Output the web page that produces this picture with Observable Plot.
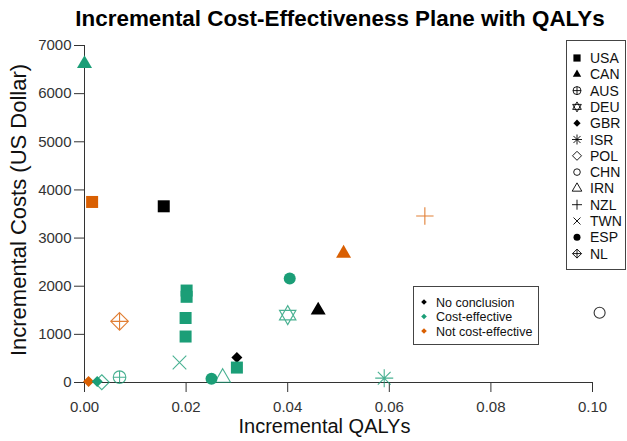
<!DOCTYPE html>
<html><head><meta charset="utf-8">
<script src="https://cdn.jsdelivr.net/npm/d3@7"></script>
<script src="https://cdn.jsdelivr.net/npm/@observablehq/plot@0.6"></script>
<style>
body{margin:0;background:#fff;font-family:"Liberation Sans",Arial,sans-serif;}
#title{box-sizing:border-box;width:627px;height:36px;line-height:38px;padding-left:53px;text-align:center;font-weight:bold;font-size:22.4px;color:#000;white-space:nowrap;}
#chart svg{display:block;overflow:visible;}
</style></head><body>
<div id="title">Incremental Cost-Effectiveness Plane with QALYs</div>
<div id="chart"></div>
<script>
// ---- data ----
const countries   = ["CAN","USA","USA","CAN","CAN","ESP","DEU","NZL","ISR","CHN","NL","AUS","POL","GBR","GBR","USA","USA","USA","USA","TWN","ESP","IRN","GBR","USA"];
const conclusions = ["CE","NCE","NC","NC","NCE","CE","CE","NCE","CE","NC","NCE","CE","CE","NCE","CE","CE","CE","CE","CE","CE","CE","CE","NC","CE"];
const qalys       = [0.0000,0.0015,0.0156,0.0460,0.0510,0.0404,0.0400,0.0670,0.0590,0.1014,0.0069,0.0069,0.0034,0.0008,0.0025,0.0201,0.0201,0.0199,0.0199,0.0187,0.0250,0.0272,0.0300,0.0300];
const costs       = [6620,3750,3660,1500,2680,2160,1400,3460,90,1450,1270,110,5,20,20,1910,1780,1340,955,415,80,100,520,310];
const xTicks = [0, 0.02, 0.04, 0.06, 0.08, 0.10];
const yTicks = [0, 1000, 2000, 3000, 4000, 5000, 6000, 7000];
const legendCountries = ["USA","CAN","AUS","DEU","GBR","ISR","POL","CHN","IRN","NZL","TWN","ESP","NL"];
const conclusionKeys = ["NC","CE","NCE"];
const conclusionLabels = ["No conclusion","Cost-effective","Not cost-effective"];

// ---- styles ----
const conclusionColors = {NC:"#000000", CE:"#1B9E77", NCE:"#D95F02"};
const sym = f => ({draw(ctx, size){ f(ctx, Math.sqrt(size/Math.PI)); }});
const S3 = Math.sqrt(3);
const shapes = {
  square: sym((c,r)=>{c.moveTo(-r,-r);c.lineTo(r,-r);c.lineTo(r,r);c.lineTo(-r,r);c.closePath();}),
  triangle: sym((c,r)=>{const h=r*S3;c.moveTo(0,-h*2/3);c.lineTo(r,h/3);c.lineTo(-r,h/3);c.closePath();}),
  circle: sym((c,r)=>{c.moveTo(r,0);c.arc(0,0,r,0,2*Math.PI);}),
  diamond: sym((c,r)=>{c.moveTo(0,-r);c.lineTo(r,0);c.lineTo(0,r);c.lineTo(-r,0);c.closePath();}),
  plus: sym((c,r)=>{c.moveTo(-r,0);c.lineTo(r,0);c.moveTo(0,-r);c.lineTo(0,r);}),
  times: sym((c,r)=>{c.moveTo(-r,-r);c.lineTo(r,r);c.moveTo(-r,r);c.lineTo(r,-r);}),
  asterisk: sym((c,r)=>{const d=r*0.707;c.moveTo(-r,0);c.lineTo(r,0);c.moveTo(0,-r);c.lineTo(0,r);c.moveTo(-d,-d);c.lineTo(d,d);c.moveTo(-d,d);c.lineTo(d,-d);}),
  circlePlus: sym((c,r)=>{c.moveTo(r,0);c.arc(0,0,r,0,2*Math.PI);c.moveTo(-r,0);c.lineTo(r,0);c.moveTo(0,-r);c.lineTo(0,r);}),
  star: sym((c,r)=>{const w=r*S3/2;c.moveTo(0,-r);c.lineTo(w,r/2);c.lineTo(-w,r/2);c.closePath();c.moveTo(0,r);c.lineTo(w,-r/2);c.lineTo(-w,-r/2);c.closePath();}),
  diamondPlus: sym((c,r)=>{c.moveTo(0,-r);c.lineTo(r,0);c.lineTo(0,r);c.lineTo(-r,0);c.closePath();c.moveTo(-r,0);c.lineTo(r,0);c.moveTo(0,-r);c.lineTo(0,r);})
};
const countryStyle = {
  USA:{shape:"square",filled:true,r:6,lr:3.6},
  CAN:{shape:"triangle",filled:true,r:7.5,lr:4.2},
  AUS:{shape:"circlePlus",filled:false,r:6.3,lr:4},
  DEU:{shape:"star",filled:false,r:9.5,lr:5},
  GBR:{shape:"diamond",filled:true,r:5.5,lr:3.6},
  ISR:{shape:"asterisk",filled:false,r:9,lr:5},
  POL:{shape:"diamond",filled:false,r:7.5,lr:4.5},
  CHN:{shape:"circle",filled:false,r:5.5,lr:3.3},
  IRN:{shape:"triangle",filled:false,r:7.8,lr:4.8},
  NZL:{shape:"plus",filled:false,r:8.7,lr:5},
  TWN:{shape:"times",filled:false,r:6.8,lr:3.5},
  ESP:{shape:"circle",filled:true,r:6,lr:3.5},
  NL:{shape:"diamondPlus",filled:false,r:8.8,lr:4.5}
};

const W = 627, H = 405, mL = 84, mR = 35, mT = 9, mB = 59;
const axisColor = "#333";
const FONT = '"Liberation Sans", Arial, sans-serif';

const pointMarks = countries.map((c, i) => {
  const st = countryStyle[c], col = conclusionColors[conclusions[i]];
  return Plot.dot([i], {
    x: j => qalys[j], y: j => costs[j],
    symbol: shapes[st.shape], r: st.r,
    fill: st.filled ? col : "none",
    stroke: st.filled ? "none" : col,
    strokeWidth: 1.1, strokeOpacity: 0.8
  });
});

const chart = Plot.plot({
  width: W, height: H,
  marginLeft: mL, marginRight: mR, marginTop: mT, marginBottom: mB,
  style: {fontFamily: FONT, color: axisColor, background: "#fff", overflow: "visible"},
  x: {domain: [0, 0.1]},
  y: {domain: [0, 7000]},
  marks: [
    Plot.axisX({ticks: xTicks, tickFormat: d3.format(".2f"), tickSize: 10, tickPadding: 9, fontSize: 15, label: null, stroke: axisColor, fill: axisColor}),
    Plot.axisY({ticks: yTicks, tickFormat: d3.format("d"), tickSize: 10, tickPadding: 3, fontSize: 15, label: null, stroke: axisColor, fill: axisColor}),
    Plot.ruleX([0], {stroke: axisColor}),
    Plot.ruleY([0], {stroke: axisColor}),
    Plot.text(["Incremental QALYs"], {frameAnchor: "bottom", textAnchor: "middle", dy: 50, dx: -14, fontSize: 20, fill: "#111"}),
    Plot.text(["Incremental Costs (US Dollar)"], {frameAnchor: "left", textAnchor: "middle", rotate: -90, dx: -66, dy: -4, fontSize: 22, fill: "#111"}),
    ...pointMarks
  ]
});
document.getElementById("chart").appendChild(chart);

// ---- legends (drawn into the same SVG) ----
const svg = d3.select(chart);
const T = 36; // title offset
const lg = svg.append("g").attr("font-family", FONT).attr("font-size", 14).attr("text-anchor", "start");
lg.append("rect").attr("x", 566.5).attr("y", 40.5 - T).attr("width", 59).attr("height", 229)
  .attr("fill", "#fff").attr("stroke", "#444").attr("stroke-width", 1);
legendCountries.forEach((c, k) => {
  const st = countryStyle[c];
  const y = 58 - T + k * 16.3;
  lg.append("path").attr("transform", `translate(577,${y})`)
    .attr("d", d3.symbol(shapes[st.shape], Math.PI * st.lr * st.lr)())
    .attr("fill", st.filled ? "#000" : "none").attr("stroke", st.filled ? "none" : "#000").attr("stroke-width", 0.9);
  lg.append("text").attr("x", 590).attr("y", y).attr("dy", "0.36em").attr("fill", "#111").attr("text-anchor", "start").text(c);
});
const cg = svg.append("g").attr("font-family", FONT).attr("font-size", 12.5).attr("text-anchor", "start");
cg.append("rect").attr("x", 413.5).attr("y", 286.5 - T).attr("width", 125).attr("height", 58)
  .attr("fill", "#fff").attr("stroke", "#444").attr("stroke-width", 1);
conclusionKeys.forEach((k, i) => {
  const y = 302 - T + i * 14.5;
  cg.append("path").attr("transform", `translate(424,${y})`)
    .attr("d", d3.symbol(shapes.diamond, Math.PI * 2.8 * 2.8)())
    .attr("fill", conclusionColors[k]);
  cg.append("text").attr("x", 436).attr("y", y).attr("dy", "0.36em").attr("fill", "#111").attr("text-anchor", "start").text(conclusionLabels[i]);
});
</script>
</body></html>
